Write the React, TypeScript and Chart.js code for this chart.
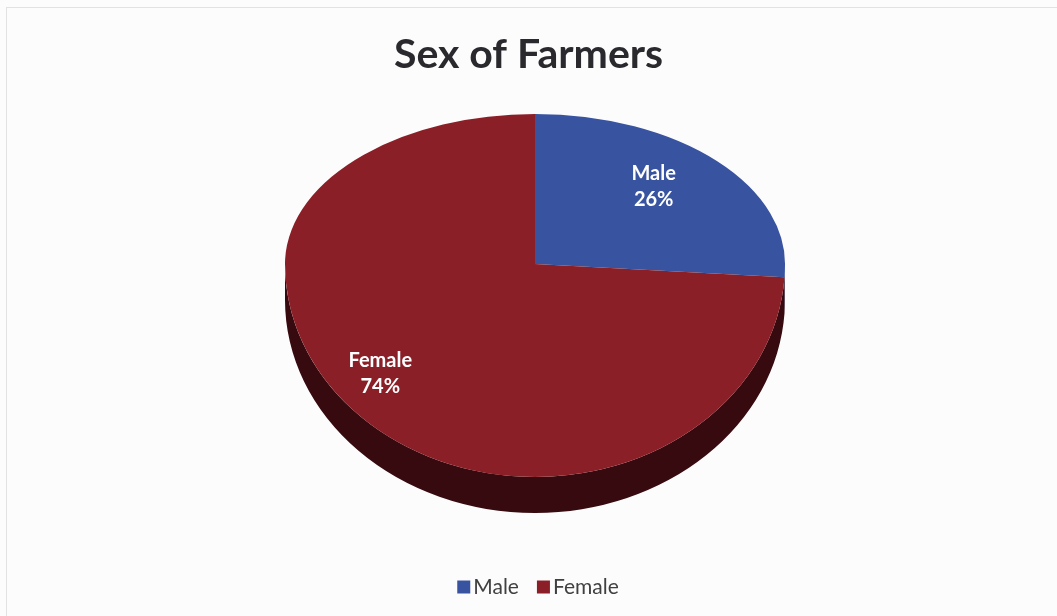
import React, { useEffect, useRef } from "react";
import { Chart, registerables } from "chart.js";

Chart.register(...registerables);

const categories = ["Male", "Female"];
const shares = [26, 74];
const faceColors = ["#38539f", "#8b1f27"];
const sideColors = ["#1e2b58", "#360a0e"];
const chartTitle = "Sex of Farmers";

// Placement of the tilted pie on the page
const CX = 535;
const CY = 264;
const RX = 250;
const RY_TOP = 150;
const RY_BOTTOM = 213;
const DEPTH = 36;
const LABEL_RADIUS = 0.75;
const LABEL_SHIFT_X = -18;
const LEGEND_Y = 587;
const LEGEND_CENTER_X = 538;

const pie3d = {
  id: "pie3d",
  beforeDraw(chart: any) {
    const ctx = chart.ctx;
    ctx.save();
    ctx.fillStyle = "#fcfcfc";
    ctx.fillRect(0, 0, chart.width, chart.height);
    ctx.strokeStyle = "#e2e2e2";
    ctx.lineWidth = 1;
    ctx.strokeRect(6.5, 7.5, chart.width + 10, chart.height + 10);
    ctx.restore();
  },
  beforeDatasetsDraw(chart: any) {
    const ctx = chart.ctx;
    const meta = chart.getDatasetMeta(0);
    const arcs = meta.data;
    // side walls
    arcs.forEach((arc: any, i: number) => {
      const p = arc.getProps(["startAngle", "endAngle"], true);
      const a0 = Math.max(p.startAngle, 0);
      const a1 = Math.min(p.endAngle, Math.PI);
      if (a1 > a0) {
        ctx.save();
        ctx.beginPath();
        ctx.ellipse(CX, CY, RX, RY_BOTTOM, 0, a0, a1);
        ctx.ellipse(CX, CY + DEPTH, RX, RY_BOTTOM, 0, a1, a0, true);
        ctx.closePath();
        ctx.fillStyle = sideColors[i];
        ctx.fill();
        ctx.restore();
      }
    });
    // top face in two halves (perspective)
    const halves = [
      { y0: 0, y1: CY, ry: RY_TOP },
      { y0: CY, y1: chart.height, ry: RY_BOTTOM },
    ];
    halves.forEach((h) => {
      ctx.save();
      ctx.beginPath();
      ctx.rect(0, h.y0, chart.width, h.y1 - h.y0);
      ctx.clip();
      arcs.forEach((arc: any) => {
        const p = arc.getProps(["x", "y", "outerRadius"], true);
        ctx.save();
        ctx.translate(CX, CY);
        ctx.scale(RX / p.outerRadius, h.ry / p.outerRadius);
        ctx.translate(-p.x, -p.y);
        arc.draw(ctx);
        ctx.restore();
      });
      ctx.restore();
    });
    return false;
  },
  afterDraw(chart: any) {
    const ctx = chart.ctx;
    const meta = chart.getDatasetMeta(0);
    const data = chart.data.datasets[0].data as number[];
    const colors = chart.data.datasets[0].backgroundColor as string[];
    const labels = chart.data.labels as string[];
    const total = data.reduce((a, b) => a + b, 0);
    // data labels
    ctx.save();
    ctx.fillStyle = "#ffffff";
    ctx.font = "bold 20px Lato";
    ctx.textAlign = "center";
    ctx.textBaseline = "middle";
    meta.data.forEach((arc: any, i: number) => {
      const p = arc.getProps(["startAngle", "endAngle"], true);
      const mid = (p.startAngle + p.endAngle) / 2;
      const s = Math.sin(mid);
      const x = CX + RX * LABEL_RADIUS * Math.cos(mid) + LABEL_SHIFT_X;
      const y = CY + (s < 0 ? RY_TOP : RY_BOTTOM) * LABEL_RADIUS * s;
      const pct = Math.round((data[i] / total) * 100) + "%";
      ctx.fillText(String(labels[i]), x, y - 13);
      ctx.fillText(pct, x, y + 13);
    });
    ctx.restore();
    // legend
    ctx.save();
    ctx.font = "21px Lato";
    ctx.textBaseline = "middle";
    ctx.textAlign = "left";
    const box = 13;
    const gap = 3;
    const itemGap = 18;
    const widths = labels.map((l) => box + gap + ctx.measureText(l).width);
    const totalW = widths.reduce((a, b) => a + b, 0) + itemGap * (labels.length - 1);
    let x = LEGEND_CENTER_X - totalW / 2;
    labels.forEach((l, i) => {
      ctx.fillStyle = colors[i];
      ctx.fillRect(x, LEGEND_Y - box / 2, box, box);
      ctx.fillStyle = "#404040";
      ctx.fillText(l, x + box + gap, LEGEND_Y);
      x += widths[i] + itemGap;
    });
    ctx.restore();
  },
};

export default function App() {
  const ref = useRef<HTMLCanvasElement>(null);
  useEffect(() => {
    document.body.style.margin = "0";
    const chart = new Chart(ref.current as HTMLCanvasElement, {
      type: "pie",
      data: {
        labels: categories,
        datasets: [
          {
            data: shares,
            backgroundColor: faceColors,
            borderWidth: 0,
          },
        ],
      },
      options: {
        responsive: false,
        animation: false,
        events: [],
        layout: { padding: { top: 0, bottom: 40, left: 0, right: 0 } },
        plugins: {
          title: {
            display: true,
            text: chartTitle,
            color: "#2a2a2e",
            font: { family: "Lato", size: 41, weight: "bold", lineHeight: 1.2 },
            padding: { top: 30, bottom: 10 },
          },
          legend: { display: false },
          tooltip: { enabled: false },
        },
      },
      plugins: [pie3d],
    });
    return () => chart.destroy();
  }, []);
  return (
    <div style={{ width: 1057, height: 616 }}>
      <canvas ref={ref} width={1057} height={616} style={{ display: "block" }} />
    </div>
  );
}
